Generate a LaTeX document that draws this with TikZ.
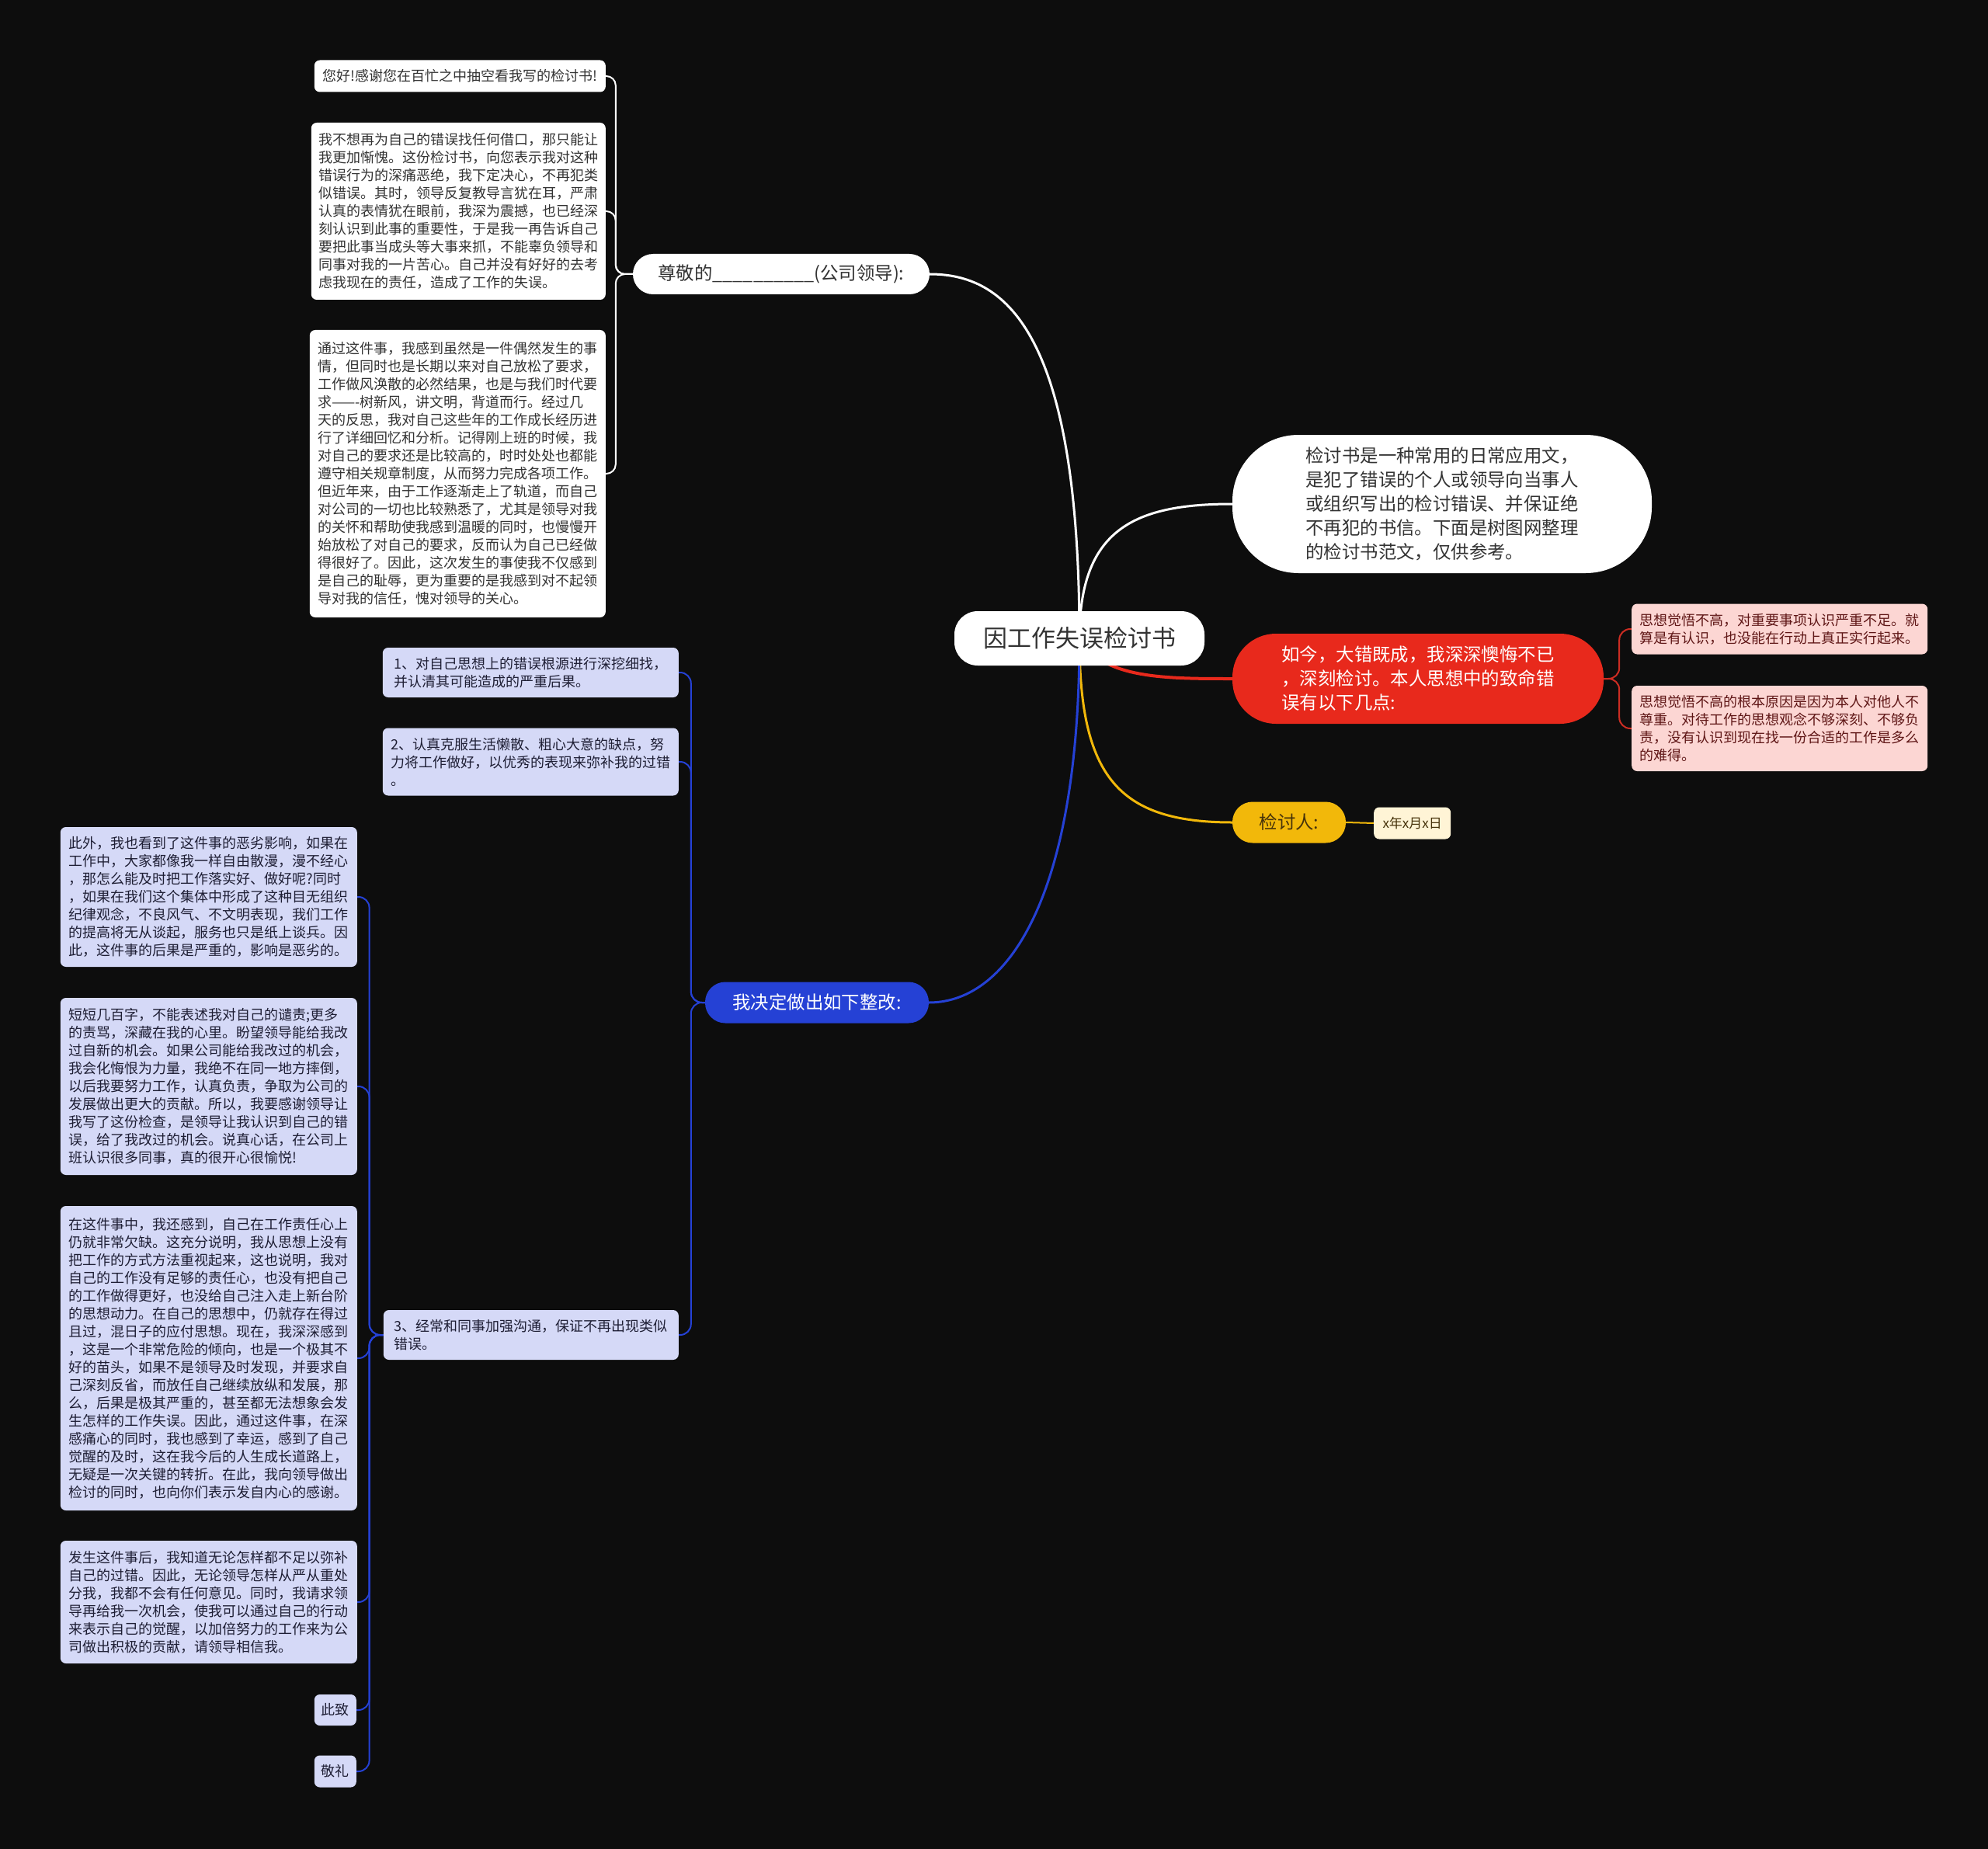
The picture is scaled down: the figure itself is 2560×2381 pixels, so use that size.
\documentclass[tikz,border=0pt]{standalone}
\usepackage{fontspec}
\newfontfamily\cjk{Noto Sans CJK SC}
\usetikzlibrary{calc}
\definecolor{bgdark}{RGB}{13,13,13}
\definecolor{txtgray}{RGB}{51,51,51}
\definecolor{mapred}{RGB}{232,41,28}
\definecolor{redline}{RGB}{205,45,35}
\definecolor{pinkfill}{RGB}{252,214,211}
\definecolor{pinktxt}{RGB}{95,22,22}
\definecolor{mapgold}{RGB}{242,184,10}
\definecolor{goldtxt}{RGB}{70,50,10}
\definecolor{creamfill}{RGB}{255,244,214}
\definecolor{mapblue}{RGB}{37,65,213}
\definecolor{lavfill}{RGB}{213,217,247}
\definecolor{lavtxt}{RGB}{30,30,52}
\pgfdeclarelayer{bg}
\pgfdeclarelayer{links}
\pgfsetlayers{bg,links,main}
\begin{document}
\begin{tikzpicture}[x=1pt,y=-1pt,
 pill/.style={font=\cjk\fontsize{23.4}{31}\selectfont,align=left,inner sep=0pt},
 leaf/.style={font=\cjk\fontsize{18}{23}\selectfont,align=left,inner sep=0pt,rounded corners=7pt},
 whiteleaf/.style={leaf,fill=white,text=txtgray,anchor=east},
 blueleaf/.style={leaf,fill=lavfill,text=lavtxt,anchor=east},
 redleaf/.style={leaf,fill=pinkfill,text=pinktxt,anchor=west},
 trunk/.style={line width=3pt},
 twig/.style={line width=2pt,rounded corners=12pt}]
 \useasboundingbox (0,0) rectangle (2560,2381);
 \begin{pgfonlayer}{bg}
 \fill[bgdark] (0,0) rectangle (2560,2381);
 \end{pgfonlayer}
 \node[pill,fill=white,text=txtgray,rounded corners=30pt,minimum width=322pt,minimum height=70pt,font=\cjk\fontsize{31}{38}\selectfont] (root) at (1390,822) {因工作失误检讨书};
 \node[pill,fill=white,text=txtgray,rounded corners=26pt,minimum width=382pt,minimum height=52pt] (dear) at (1006,353) {尊敬的\_\_\_\_\_\_\_\_\_\_(公司领导):};
 \node[pill,fill=white,text=txtgray,rounded corners=85pt,minimum width=540pt,minimum height=178pt] (intro) at (1857,649)
 {检讨书是一种常用的日常应用文，\\是犯了错误的个人或领导向当事人\\或组织写出的检讨错误、并保证绝\\不再犯的书信。下面是树图网整理\\的检讨书范文，仅供参考。};
 \node[pill,fill=mapred,text=white,rounded corners=56pt,minimum width=478pt,minimum height=116pt] (regret) at (1826,874)
 {如今，大错既成，我深深懊悔不已\\，深刻检讨。本人思想中的致命错\\误有以下几点:};
 \node[pill,fill=mapgold,text=goldtxt,rounded corners=26pt,minimum width=146pt,minimum height=53pt] (signer) at (1660,1059) {检讨人:};
 \node[pill,fill=mapblue,text=white,rounded corners=26pt,minimum width=288pt,minimum height=53pt] (plan) at (1052,1291) {我决定做出如下整改:};
 \node[whiteleaf,minimum width=375pt,minimum height=41pt] (hello) at (780,98) {您好!感谢您在百忙之中抽空看我写的检讨书!};
 \node[whiteleaf,minimum width=379pt,minimum height=228pt] (excuse) at (780,272)
 {我不想再为自己的错误找任何借口，那只能让\\我更加惭愧。这份检讨书，向您表示我对这种\\错误行为的深痛恶绝，我下定决心，不再犯类\\似错误。其时，领导反复教导言犹在耳，严肃\\认真的表情犹在眼前，我深为震撼，也已经深\\刻认识到此事的重要性，于是我一再告诉自己\\要把此事当成头等大事来抓，不能辜负领导和\\同事对我的一片苦心。自己并没有好好的去考\\虑我现在的责任，造成了工作的失误。};
 \node[whiteleaf,minimum width=381pt,minimum height=370pt] (reflect) at (780,610)
 {通过这件事，我感到虽然是一件偶然发生的事\\情，但同时也是长期以来对自己放松了要求，\\工作做风涣散的必然结果，也是与我们时代要\\求——-树新风，讲文明，背道而行。经过几\\天的反思，我对自己这些年的工作成长经历进\\行了详细回忆和分析。记得刚上班的时候，我\\对自己的要求还是比较高的，时时处处也都能\\遵守相关规章制度，从而努力完成各项工作。\\但近年来，由于工作逐渐走上了轨道，而自己\\对公司的一切也比较熟悉了，尤其是领导对我\\的关怀和帮助使我感到温暖的同时，也慢慢开\\始放松了对自己的要求，反而认为自己已经做\\得很好了。因此，这次发生的事使我不仅感到\\是自己的耻辱，更为重要的是我感到对不起领\\导对我的信任，愧对领导的关心。};
 \node[redleaf,minimum width=381pt,minimum height=65pt] (causea) at (2101,810)
 {思想觉悟不高，对重要事项认识严重不足。就\\算是有认识，也没能在行动上真正实行起来。};
 \node[redleaf,minimum width=381pt,minimum height=110pt] (causeb) at (2101,938)
 {思想觉悟不高的根本原因是因为本人对他人不\\尊重。对待工作的思想观念不够深刻、不够负\\责，没有认识到现在找一份合适的工作是多么\\的难得。};
 \node[leaf,fill=creamfill,text=goldtxt,anchor=west,font=\cjk\fontsize{17}{22}\selectfont,minimum width=99pt,minimum height=41pt] (date) at (1769,1060) {x年x月x日};
 \node[blueleaf,minimum width=381pt,minimum height=64pt] (stepa) at (874,866)
 {1、对自己思想上的错误根源进行深挖细找，\\并认清其可能造成的严重后果。};
 \node[blueleaf,minimum width=381pt,minimum height=87pt] (stepb) at (874,981)
 {2、认真克服生活懒散、粗心大意的缺点，努\\力将工作做好，以优秀的表现来弥补我的过错\\。};
 \node[blueleaf,minimum width=380pt,minimum height=64pt] (stepc) at (874,1719)
 {3、经常和同事加强沟通，保证不再出现类似\\错误。};
 \node[blueleaf,minimum width=382pt,minimum height=180pt] (effect) at (460,1155)
 {此外，我也看到了这件事的恶劣影响，如果在\\工作中，大家都像我一样自由散漫，漫不经心\\，那怎么能及时把工作落实好、做好呢?同时\\，如果在我们这个集体中形成了这种目无组织\\纪律观念，不良风气、不文明表现，我们工作\\的提高将无从谈起，服务也只是纸上谈兵。因\\此，这件事的后果是严重的，影响是恶劣的。};
 \node[blueleaf,minimum width=382pt,minimum height=228pt] (words) at (460,1399)
 {短短几百字，不能表述我对自己的谴责;更多\\的责骂，深藏在我的心里。盼望领导能给我改\\过自新的机会。如果公司能给我改过的机会，\\我会化悔恨为力量，我绝不在同一地方摔倒，\\以后我要努力工作，认真负责，争取为公司的\\发展做出更大的贡献。所以，我要感谢领导让\\我写了这份检查，是领导让我认识到自己的错\\误，给了我改过的机会。说真心话，在公司上\\班认识很多同事，真的很开心很愉悦!};
 \node[blueleaf,minimum width=382pt,minimum height=392pt] (lesson) at (460,1749)
 {在这件事中，我还感到，自己在工作责任心上\\仍就非常欠缺。这充分说明，我从思想上没有\\把工作的方式方法重视起来，这也说明，我对\\自己的工作没有足够的责任心，也没有把自己\\的工作做得更好，也没给自己注入走上新台阶\\的思想动力。在自己的思想中，仍就存在得过\\且过，混日子的应付思想。现在，我深深感到\\，这是一个非常危险的倾向，也是一个极其不\\好的苗头，如果不是领导及时发现，并要求自\\己深刻反省，而放任自己继续放纵和发展，那\\么，后果是极其严重的，甚至都无法想象会发\\生怎样的工作失误。因此，通过这件事，在深\\感痛心的同时，我也感到了幸运，感到了自己\\觉醒的及时，这在我今后的人生成长道路上，\\无疑是一次关键的转折。在此，我向领导做出\\检讨的同时，也向你们表示发自内心的感谢。};
 \node[blueleaf,minimum width=382pt,minimum height=158pt] (promise) at (460,2063)
 {发生这件事后，我知道无论怎样都不足以弥补\\自己的过错。因此，无论领导怎样从严从重处\\分我，我都不会有任何意见。同时，我请求领\\导再给我一次机会，使我可以通过自己的行动\\来表示自己的觉醒，以加倍努力的工作来为公\\司做出积极的贡献，请领导相信我。};
 \node[blueleaf,minimum width=54pt,minimum height=40pt] (salute) at (459,2202) {此致};
 \node[blueleaf,minimum width=54pt,minimum height=41pt] (regards) at (459,2281) {敬礼};
 \begin{pgfonlayer}{links}
 \draw[trunk,white] (root.center) .. controls ($(root.center)+(0,-400)$) and ($(dear.east)+(95,0)$) .. (dear.east);
 \draw[trunk,white] (root.center) .. controls ($(root.center)+(0,-140)$) and ($(intro.west)+(-127,0)$) .. (intro.west);
 \draw[trunk,mapred,line width=4pt] (root.center) .. controls ($(root.center)+(30,52)$) and ($(regret.west)+(-87,0)$) .. (regret.west);
 \draw[trunk,mapgold] (root.center) .. controls ($(root.center)+(0,178)$) and ($(signer.west)+(-147,0)$) .. (signer.west);
 \draw[trunk,mapblue] (root.center) .. controls ($(root.center)+(0,328)$) and ($(plan.east)+(104,0)$) .. (plan.east);
 \draw[twig,white] (dear.west) -- ++(-22,0) |- (hello.east);
 \draw[twig,white] (dear.west) -- ++(-22,0) |- (excuse.east);
 \draw[twig,white] (dear.west) -- ++(-22,0) |- (reflect.east);
 \draw[twig,redline,rounded corners=14pt] (regret.east) -- ++(20,0) |- (causea.west);
 \draw[twig,redline,rounded corners=14pt] (regret.east) -- ++(20,0) |- (causeb.west);
 \draw[twig,mapgold] (signer.east) -- (date.west);
 \draw[twig,mapblue,rounded corners=14pt] (plan.west) -- ++(-18,0) |- (stepa.east);
 \draw[twig,mapblue,rounded corners=14pt] (plan.west) -- ++(-18,0) |- (stepb.east);
 \draw[twig,mapblue,rounded corners=14pt] (plan.west) -- ++(-18,0) |- (stepc.east);
 \draw[twig,mapblue,rounded corners=14pt] (stepc.west) -- ++(-18,0) |- (effect.east);
 \draw[twig,mapblue,rounded corners=14pt] (stepc.west) -- ++(-18,0) |- (words.east);
 \draw[twig,mapblue,rounded corners=14pt] (stepc.west) -- ++(-18,0) |- (lesson.east);
 \draw[twig,mapblue,rounded corners=14pt] (stepc.west) -- ++(-18,0) |- (promise.east);
 \draw[twig,mapblue,rounded corners=14pt] (stepc.west) -- ++(-18,0) |- (salute.east);
 \draw[twig,mapblue,rounded corners=14pt] (stepc.west) -- ++(-18,0) |- (regards.east);
 \end{pgfonlayer}
\end{tikzpicture}
\end{document}
